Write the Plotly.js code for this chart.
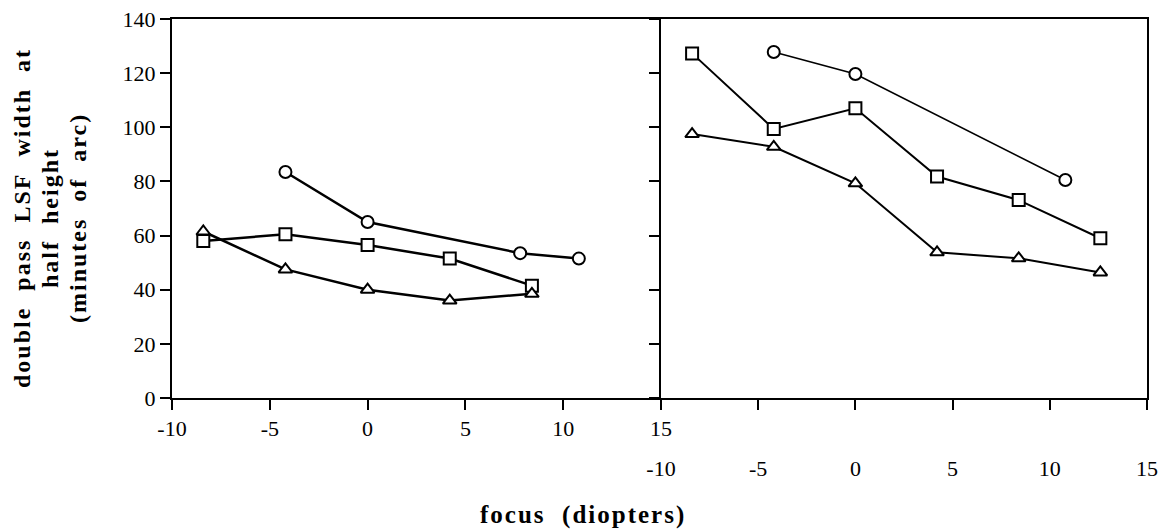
<!DOCTYPE html>
<html>
<head>
<meta charset="utf-8">
<script src="https://cdn.plot.ly/plotly-3.0.1.min.js"></script>
<style>
html,body{margin:0;padding:0;background:#fff;}
#chart{width:1167px;height:531px;}
</style>
</head>
<body>
<div id="chart"></div>
<script>
// Left panel
const leftSquareX = [-8.4, -4.2, 0, 4.2, 8.4];
const leftSquareY = [58, 60.5, 56.5, 51.5, 41.5];
const leftTriangleX = [-8.4, -4.2, 0, 4.2, 8.4];
const leftTriangleY = [61.5, 47.5, 40, 36, 38.5];
const leftCircleX = [-4.2, 0, 7.8, 10.8];
const leftCircleY = [83.5, 65, 53.5, 51.5];
// Right panel
const rightSquareX = [-8.4, -4.2, 0, 4.2, 8.4, 12.6];
const rightSquareY = [127.3, 99.4, 107, 81.8, 73.1, 59];
const rightCircleX = [-4.2, 0, 10.8];
const rightCircleY = [127.8, 119.7, 80.5];
const rightTriangleX = [-8.4, -4.2, 0, 4.2, 8.4, 12.6];
const rightTriangleY = [97.5, 92.8, 79.3, 53.8, 51.6, 46.4];

const xTicks = [-10, -5, 0, 5, 10, 15];
const yTicks = [0, 20, 40, 60, 80, 100, 120, 140];
const yTitleLines = ['double pass LSF width at', 'half height', '(minutes of arc)'];
const xTitle = 'focus (diopters)';

const FONT = "Liberation Serif, Times New Roman, serif";

function tr(x, y, sym, xa, ya, lw) {
  return {
    x: x, y: y, xaxis: xa, yaxis: ya, type: 'scatter', mode: 'lines+markers',
    line: {color: '#000', width: lw},
    marker: {symbol: sym, size: 12, color: '#fff', line: {color: '#000', width: 2}},
    showlegend: false, cliponaxis: false
  };
}

const data = [
  tr(leftCircleX, leftCircleY, 'circle', 'x', 'y', 2.5),
  tr(leftSquareX, leftSquareY, 'square', 'x', 'y', 2.5),
  tr(leftTriangleX, leftTriangleY, 'triangle-up', 'x', 'y', 2.5),
  tr(rightCircleX, rightCircleY, 'circle', 'x2', 'y2', 1.6),
  tr(rightSquareX, rightSquareY, 'square', 'x2', 'y2', 2),
  tr(rightTriangleX, rightTriangleY, 'triangle-up', 'x2', 'y2', 2)
];

const split = 489 / 975;
const axisCommon = {
  showline: true, linecolor: '#000', linewidth: 2, mirror: true,
  ticks: 'outside', tickcolor: '#000', tickwidth: 2,
  showgrid: false, zeroline: false,
  tickfont: {family: FONT, size: 22, color: '#000'}
};

const sp = (s, ls) => '<b><span style="letter-spacing:' + ls + 'px">' +
  s.replace(/ /g, '&nbsp; ') + '</span></b>';

const yTitleX = [22, 50, 78];
const annotations = yTitleLines.map((t, i) => ({
  text: sp(t, 2),
  xref: 'paper', yref: 'paper', x: (yTitleX[i] - 172) / 975, y: (398 - 218) / 379,
  xanchor: 'center', yanchor: 'middle', textangle: -90, showarrow: false,
  font: {family: FONT, size: 24, color: '#000'}
}));
annotations.push({
  text: sp(xTitle, 2),
  xref: 'paper', yref: 'paper', x: (583 - 172) / 975, y: (398 - 515) / 379,
  xanchor: 'center', yanchor: 'middle', showarrow: false,
  font: {family: FONT, size: 25, color: '#000'}
});

const layout = {
  width: 1167, height: 531,
  margin: {l: 172, r: 20, t: 19, b: 133},
  paper_bgcolor: '#fff', plot_bgcolor: '#fff',
  font: {family: FONT, color: '#000'},
  xaxis: Object.assign({}, axisCommon, {
    domain: [0, split], range: [-10, 15], tickvals: xTicks, ticktext: xTicks.map(String),
    ticklen: 10, anchor: 'y'
  }),
  yaxis: Object.assign({}, axisCommon, {
    range: [0, 140], tickvals: yTicks, ticklen: 10, anchor: 'x', mirror: false
  }),
  xaxis2: Object.assign({}, axisCommon, {
    domain: [split, 1], range: [-10, 15], tickvals: xTicks, ticktext: xTicks.map(String),
    ticklen: 10, anchor: 'y2', ticklabelstandoff: 40
  }),
  yaxis2: Object.assign({}, axisCommon, {
    range: [0, 140], tickvals: yTicks, ticklen: 10, anchor: 'x2', showticklabels: false
  }),
  annotations: annotations
};

Plotly.newPlot('chart', data, layout, {staticPlot: true, displayModeBar: false});
</script>
</body>
</html>
